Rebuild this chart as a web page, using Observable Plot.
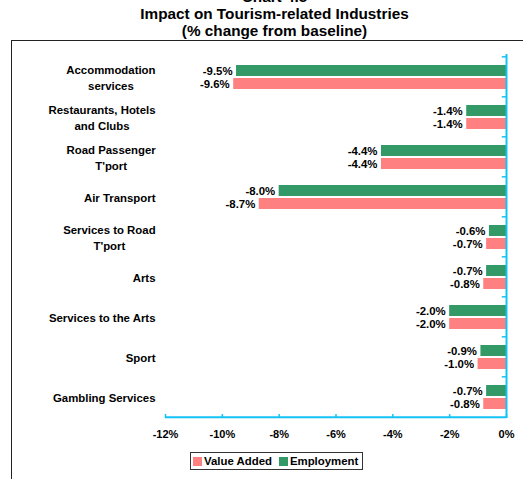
<!DOCTYPE html>
<html><head><meta charset="utf-8">
<script src="https://cdn.jsdelivr.net/npm/d3@7"></script>
<script src="https://cdn.jsdelivr.net/npm/@observablehq/plot@0.6"></script>
<style>
body{margin:0;width:523px;height:479px;overflow:hidden;position:relative;background:#fff;font-family:"Liberation Sans",Arial,sans-serif;}
#head{position:absolute;left:13px;top:-12px;width:523px;text-align:center;font-weight:bold;font-size:15.3px;line-height:17px;color:#000;}
#frame{position:absolute;left:11px;top:40px;width:600px;height:600px;border-top:1.5px solid #222;border-left:1.5px solid #222;}
#chart{position:absolute;left:0;top:42px;}
#legend{position:absolute;left:190px;top:452px;width:173px;height:18px;border:1px solid #333;background:#fff;display:flex;align-items:center;font-weight:bold;font-size:11.4px;color:#000;box-sizing:border-box;}
.sw{display:inline-block;width:9px;height:9px;}
</style></head><body>
<div id="head"><div>Chart 4.5</div><div>Impact on Tourism-related Industries</div><div>(% change from baseline)</div></div>
<div id="frame"></div>
<div id="chart"></div>
<div id="legend"></div>
<script>
const categories = ["Accommodation\nservices", "Restaurants, Hotels\nand Clubs", "Road Passenger\nT'port", "Air Transport", "Services to Road\nT'port", "Arts", "Services to the Arts", "Sport", "Gambling Services"];
const employment = [-9.5, -1.4, -4.4, -8.0, -0.6, -0.7, -2.0, -0.9, -0.7];
const valueAdded = [-9.6, -1.4, -4.4, -8.7, -0.7, -0.8, -2.0, -1.0, -0.8];
const xTicks = [-12, -10, -8, -6, -4, -2, 0];
const seriesNames = ["Value Added", "Employment"];
const seriesColors = ["#FF8080", "#339966"];

const cyan = "#14C3F5";
const empRows = categories.map((c, i) => ({category: c, value: employment[i]}));
const vaRows = categories.map((c, i) => ({category: c, value: valueAdded[i]}));
const fmt = d => d.value.toFixed(1) + "%";
const half = 363 / 9 / 2;

const chart = Plot.plot({
  width: 523,
  height: 405,
  marginLeft: 165,
  marginRight: 17,
  marginTop: 12,
  marginBottom: 29,
  style: {fontFamily: "'Liberation Sans', Arial, sans-serif", fontSize: "11px", fontWeight: "bold", background: "transparent", color: "#000"},
  x: {domain: [-12, 0], label: null},
  y: {domain: categories, paddingInner: 0.727, paddingOuter: 0.3635, label: null},
  marks: [
    Plot.barX(empRows, {x: "value", y: "category", fill: seriesColors[1], dy: -6}),
    Plot.barX(vaRows, {x: "value", y: "category", fill: seriesColors[0], dy: 7}),
    Plot.text(empRows, {x: "value", y: "category", text: fmt, textAnchor: "end", dx: -4, dy: -6, fill: "#000", fontSize: 11.4}),
    Plot.text(vaRows, {x: "value", y: "category", text: fmt, textAnchor: "end", dx: -4, dy: 7.5, fill: "#000", fontSize: 11.4}),
    Plot.ruleX([0], {stroke: cyan, strokeWidth: 2}),
    Plot.ruleY(categories, {y: d => d, dy: -half, x1: -0.15, x2: 0, stroke: cyan, strokeWidth: 1.5}),
    Plot.ruleY([categories[categories.length - 1]], {y: d => d, dy: half, x1: -12, x2: 0, stroke: cyan, strokeWidth: 2}),
    Plot.axisX({ticks: xTicks, tickFormat: d => d + "%", tickSize: -4, tickPadding: 16, stroke: cyan, strokeWidth: 1.5, fill: "#000", fontSize: 11}),
    Plot.axisY({tickSize: 0, tickPadding: 10, lineHeight: 1.4, fill: "#000", fontSize: 11.4})
  ]
});
document.getElementById("chart").appendChild(chart);

// centre the lines of two-line category labels within their right-aligned block
chart.querySelectorAll('g[aria-label="y-axis tick label"] text').forEach(t => {
  const spans = t.querySelectorAll("tspan");
  if (spans.length > 1) {
    const bb = t.getBBox();
    t.setAttribute("text-anchor", "middle");
    spans.forEach(s => s.setAttribute("x", bb.x + bb.width / 2));
  }
});

const legend = document.getElementById("legend");
seriesNames.forEach((name, i) => {
  const sw = document.createElement("span");
  sw.className = "sw";
  sw.style.background = seriesColors[i];
  sw.style.marginLeft = i === 0 ? "2px" : "7px";
  sw.style.marginRight = "2px";
  legend.appendChild(sw);
  const t = document.createElement("span");
  t.textContent = name;
  legend.appendChild(t);
});
</script>
</body></html>
